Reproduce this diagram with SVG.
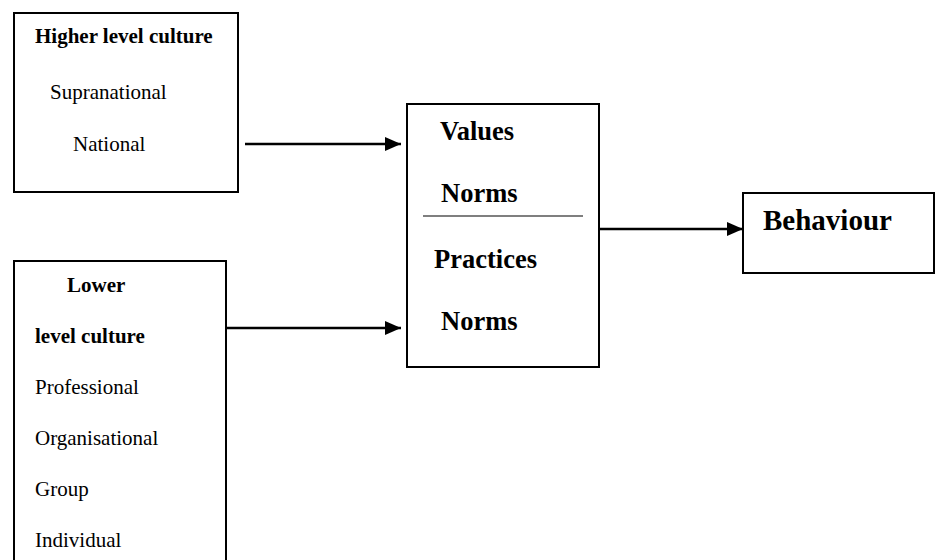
<svg xmlns="http://www.w3.org/2000/svg" width="935" height="560" viewBox="0 0 935 560">
  <style>
    .box { fill: #fff; stroke: #000; stroke-width: 2; }
    .t { font-family: "Liberation Serif", "Times New Roman", serif; fill: #000; }
    .b { font-weight: bold; }
    .s21 { font-size: 21px; }
    .s26 { font-size: 26.5px; }
    .s29 { font-size: 29px; }
    .conn { stroke: #000; stroke-width: 2.5; fill: none; marker-end: url(#arrow); }
  </style>
  <defs>
    <marker id="arrow" viewBox="0 0 16 14" refX="16" refY="7" markerWidth="16" markerHeight="14" markerUnits="userSpaceOnUse" orient="auto">
      <path d="M0,0 L16,7 L0,14 Z" fill="#000"/>
    </marker>
  </defs>
  <rect width="935" height="560" fill="#fff"/>

  <g id="higher-level-culture">
    <rect class="box" x="14" y="13" width="224" height="179"/>
    <text class="t b s21" x="35" y="43">Higher level culture</text>
    <text class="t s21" x="50" y="99">Supranational</text>
    <text class="t s21" x="73" y="151">National</text>
  </g>

  <g id="lower-level-culture">
    <rect class="box" x="14" y="261" width="212" height="310"/>
    <text class="t b s21" x="67" y="292">Lower</text>
    <text class="t b s21" x="35" y="343">level culture</text>
    <text class="t s21" x="35" y="394">Professional</text>
    <text class="t s21" x="35" y="445">Organisational</text>
    <text class="t s21" x="35" y="496">Group</text>
    <text class="t s21" x="35" y="547">Individual</text>
  </g>

  <g id="values-practices">
    <rect class="box" x="407" y="104" width="192" height="263"/>
    <text class="t b s26" x="440" y="140">Values</text>
    <text class="t b s26" x="441" y="202">Norms</text>
    <line x1="423" y1="216" x2="583" y2="216" stroke="#555" stroke-width="1.5"/>
    <text class="t b s26" x="434" y="268">Practices</text>
    <text class="t b s26" x="441" y="330">Norms</text>
  </g>

  <g id="behaviour">
    <rect class="box" x="743" y="193" width="191" height="80"/>
    <text class="t b s29" x="763" y="230">Behaviour</text>
  </g>

  <g id="connectors">
    <line class="conn" x1="245" y1="144" x2="401" y2="144"/>
    <line class="conn" x1="226" y1="328" x2="401" y2="328"/>
    <line class="conn" x1="599" y1="229" x2="743" y2="229"/>
  </g>
</svg>
